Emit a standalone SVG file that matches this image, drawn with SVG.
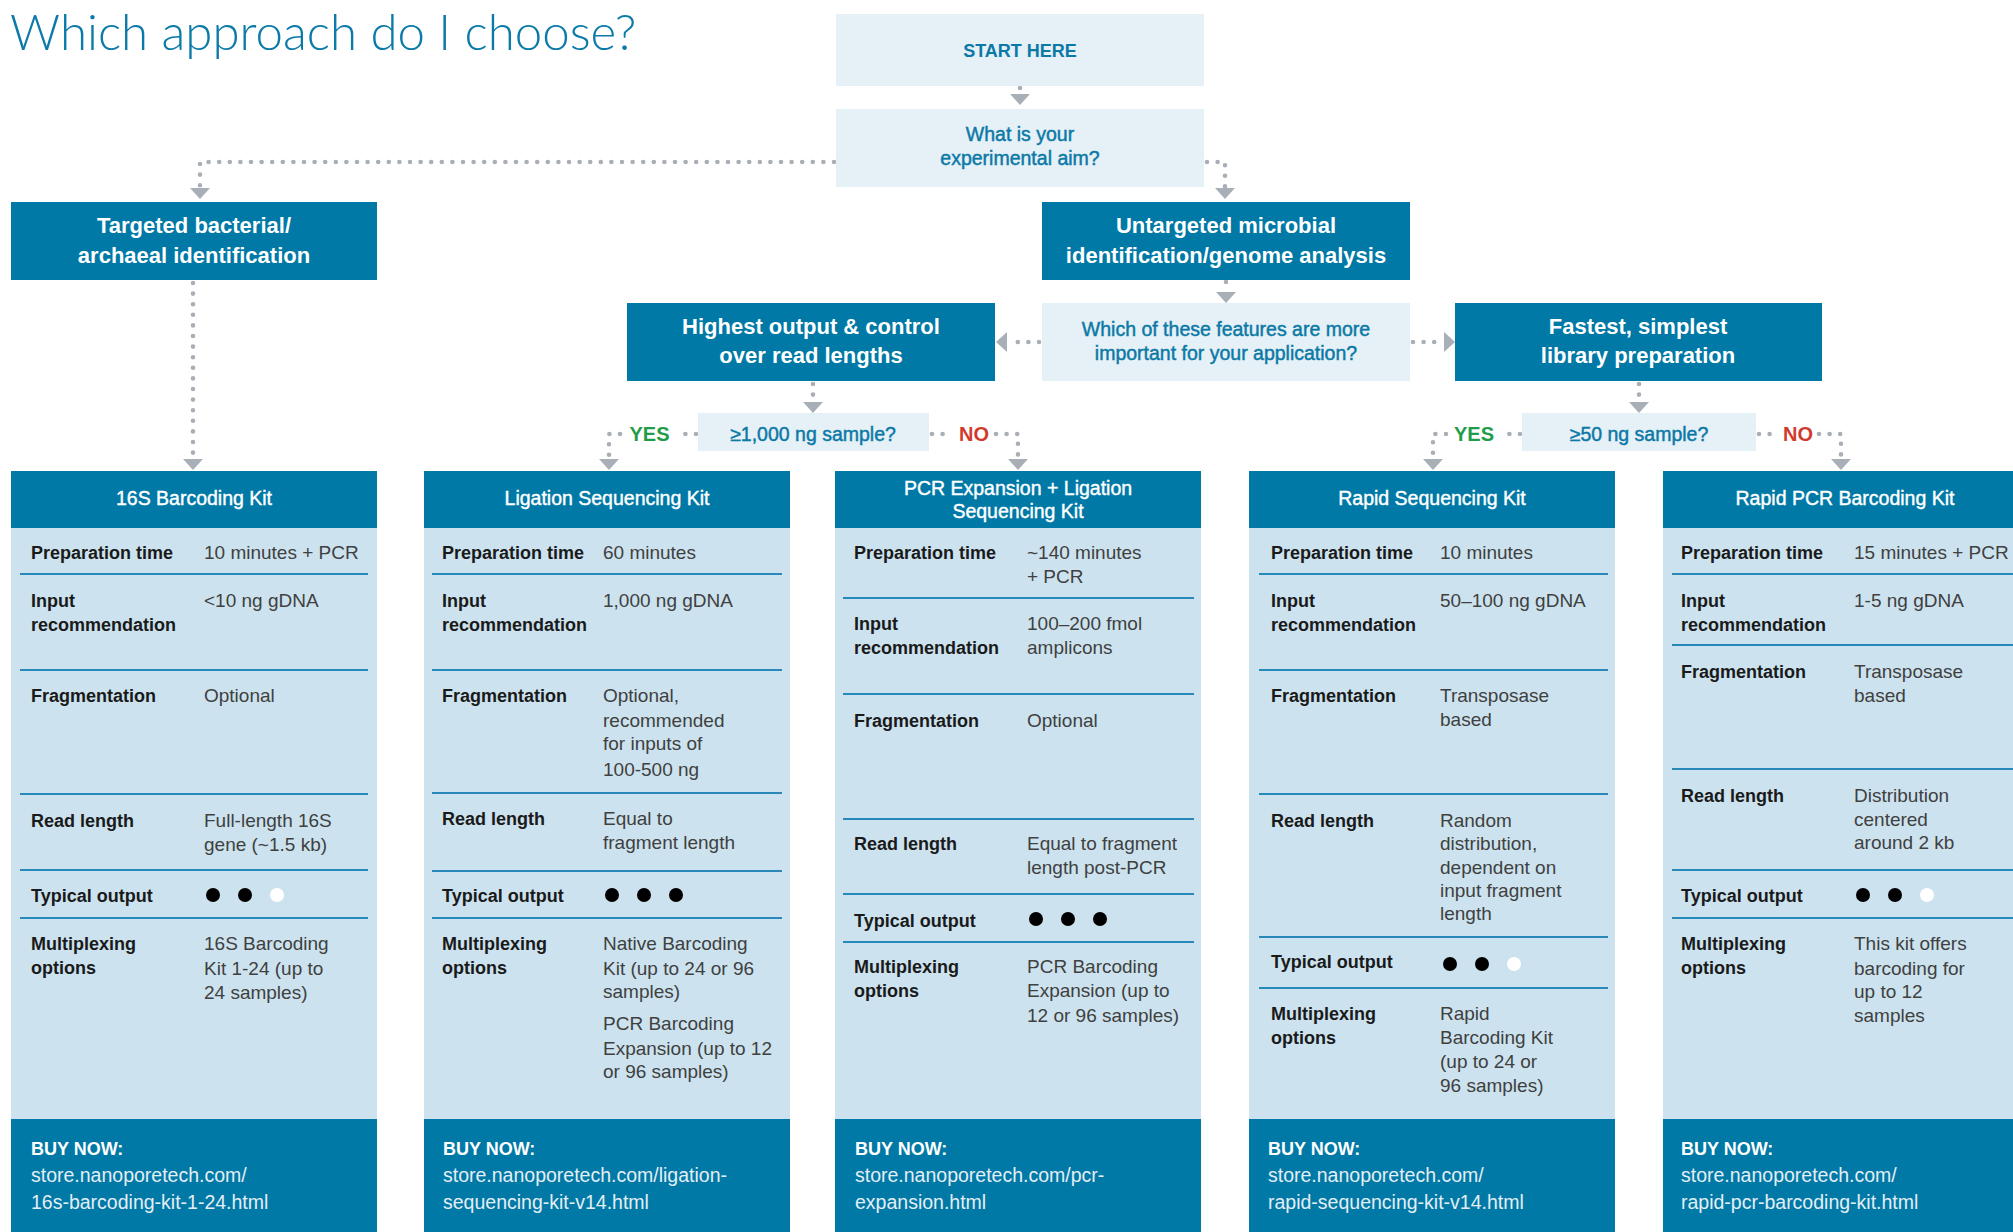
<svg xmlns="http://www.w3.org/2000/svg" xmlns:xlink="http://www.w3.org/1999/xlink" width="2013" height="1232" viewBox="0 0 2013 1232">
  <defs>
    <style>
      text { font-family: "Liberation Sans", Arial, sans-serif; }
      .title { font-family: Lato, "Liberation Sans", sans-serif; font-weight: 300; font-size: 49.2px; fill: #0b7aa8; }
      .qbox { fill: #e5f0f7; }
      .dark { fill: #0079a6; }
      .body { fill: #cce3ef; }
      .qt { font-size: 19.5px; fill: #0b79a6; stroke: #0b79a6; stroke-width: 0.45; text-anchor: middle; }
      .start { font-size: 18px; font-weight: bold; fill: #0b79a6; text-anchor: middle; }
      .big { font-size: 22px; font-weight: bold; fill: #ffffff; text-anchor: middle; }
      .kt { font-size: 19.5px; fill: #ffffff; stroke: #ffffff; stroke-width: 0.4; text-anchor: middle; }
      .lb { font-size: 18px; font-weight: bold; fill: #1a1a1a; }
      .vl { font-size: 19px; fill: #404040; }
      .rule { stroke: #2888b8; stroke-width: 2; }
      .buy { font-size: 18px; font-weight: bold; fill: #ffffff; }
      .url { font-size: 19.5px; fill: #e4eef5; }
      .on { fill: #000000; }
      .off { fill: #ffffff; }
      .dots { fill: none; stroke: #a9afb6; stroke-width: 4.6; stroke-linecap: round; stroke-dasharray: 0 10.6; }
      .ah { fill: #a9afb6; }
      .yes { font-size: 20px; font-weight: bold; fill: #1f9d48; text-anchor: middle; }
      .no { font-size: 20px; font-weight: bold; fill: #d23a2e; text-anchor: middle; }
    </style>
    <path id="ah-down" d="M-10,-11 L10,-11 L0,0 Z"/>
    <path id="ah-left" d="M11,-10 L11,10 L0,0 Z"/>
    <path id="ah-right" d="M-11,-10 L-11,10 L0,0 Z"/>
  </defs>

  <rect width="2013" height="1232" fill="#ffffff"/>

  <text class="title" x="10" y="50">Which approach do I choose?</text>

  <!-- connectors -->
  <g id="connectors">
    <path class="dots" d="M1020,88 V92"/>
    <use href="#ah-down" class="ah" x="1020" y="105"/>

    <path class="dots" d="M834,162 H200 V187"/>
    <use href="#ah-down" class="ah" x="200" y="199"/>

    <path class="dots" d="M1207,162 H1225 V187"/>
    <use href="#ah-down" class="ah" x="1225" y="199"/>

    <path class="dots" d="M193,283 V456"/>
    <use href="#ah-down" class="ah" x="193" y="470"/>

    <path class="dots" d="M1226,282 V290"/>
    <use href="#ah-down" class="ah" x="1226" y="303"/>

    <path class="dots" d="M1039,342 H1010"/>
    <use href="#ah-left" class="ah" x="996" y="342"/>

    <path class="dots" d="M1413,342 H1437"/>
    <use href="#ah-right" class="ah" x="1455" y="342"/>

    <path class="dots" d="M813,384 V400"/>
    <use href="#ah-down" class="ah" x="813" y="413"/>

    <path class="dots" d="M1639,384 V400"/>
    <use href="#ah-down" class="ah" x="1639" y="413"/>

    <!-- 1,000 ng decision -->
    <path class="dots" d="M696,434 H675"/>
    <path class="dots" d="M620,434 H609 V457"/>
    <use href="#ah-down" class="ah" x="609" y="470"/>
    <text class="yes" x="649.5" y="441">YES</text>
    <path class="dots" d="M932,434 H953"/>
    <path class="dots" d="M996,434 H1018 V457"/>
    <use href="#ah-down" class="ah" x="1018" y="470"/>
    <text class="no" x="974" y="441">NO</text>

    <!-- 50 ng decision -->
    <path class="dots" d="M1520,434 H1499"/>
    <path class="dots" d="M1446,434 H1433 V457"/>
    <use href="#ah-down" class="ah" x="1433" y="470"/>
    <text class="yes" x="1474" y="441">YES</text>
    <path class="dots" d="M1759,434 H1779"/>
    <path class="dots" d="M1819,434 H1841 V457"/>
    <use href="#ah-down" class="ah" x="1841" y="470"/>
    <text class="no" x="1798" y="441">NO</text>
  </g>

  <!-- decision nodes -->
  <g id="start">
    <rect class="qbox" x="836" y="14" width="368" height="72"/>
    <text class="start" x="1020" y="57">START HERE</text>
  </g>
  <g id="aim">
    <rect class="qbox" x="836" y="109" width="368" height="78"/>
    <text class="qt" x="1020" y="141">What is your<tspan x="1020" dy="23.5">experimental aim?</tspan></text>
  </g>
  <g id="targeted">
    <rect class="dark" x="11" y="202" width="366" height="78"/>
    <text class="big" x="194" y="233">Targeted bacterial/<tspan x="194" dy="30">archaeal identification</tspan></text>
  </g>
  <g id="untargeted">
    <rect class="dark" x="1042" y="202" width="368" height="78"/>
    <text class="big" x="1226" y="233">Untargeted microbial<tspan x="1226" dy="30">identification/genome analysis</tspan></text>
  </g>
  <g id="features">
    <rect class="qbox" x="1042" y="303" width="368" height="78"/>
    <text class="qt" x="1226" y="336">Which of these features are more<tspan x="1226" dy="23.5">important for your application?</tspan></text>
  </g>
  <g id="highest-output">
    <rect class="dark" x="627" y="303" width="368" height="78"/>
    <text class="big" x="811" y="334">Highest output &amp; control<tspan x="811" dy="29">over read lengths</tspan></text>
  </g>
  <g id="fastest">
    <rect class="dark" x="1455" y="303" width="367" height="78"/>
    <text class="big" x="1638" y="334">Fastest, simplest<tspan x="1638" dy="29">library preparation</tspan></text>
  </g>
  <g id="sample-1000">
    <rect class="qbox" x="698" y="413" width="231" height="38"/>
    <text class="qt" x="813" y="441">≥1,000 ng sample?</text>
  </g>
  <g id="sample-50">
    <rect class="qbox" x="1522" y="413" width="234" height="38"/>
    <text class="qt" x="1639" y="441">≥50 ng sample?</text>
  </g>

  <!-- kit cards -->
  <g id="kit-16s">
    <rect class="dark" x="11" y="471" width="366" height="57"/>
    <rect class="body" x="11" y="528" width="366" height="591"/>
    <rect class="dark" x="11" y="1119" width="366" height="113"/>
    <text class="kt" x="194" y="505">16S Barcoding Kit</text>
    <g class="rule">
      <line x1="20" y1="574" x2="368" y2="574"/>
      <line x1="20" y1="670" x2="368" y2="670"/>
      <line x1="20" y1="794" x2="368" y2="794"/>
      <line x1="20" y1="870" x2="368" y2="870"/>
      <line x1="20" y1="918" x2="368" y2="918"/>
    </g>
    <text class="lb" x="31" y="559">Preparation time</text>
    <text class="vl" x="204" y="559">10 minutes + PCR</text>
    <text class="lb" x="31" y="607">Input<tspan x="31" dy="23.5">recommendation</tspan></text>
    <text class="vl" x="204" y="607">&lt;10 ng gDNA</text>
    <text class="lb" x="31" y="702">Fragmentation</text>
    <text class="vl" x="204" y="702">Optional</text>
    <text class="lb" x="31" y="827">Read length</text>
    <text class="vl" x="204" y="827">Full-length 16S<tspan x="204" dy="23.5">gene (~1.5 kb)</tspan></text>
    <text class="lb" x="31" y="902">Typical output</text>
    <circle class="on" cx="213" cy="895" r="7"/>
    <circle class="on" cx="245" cy="895" r="7"/>
    <circle class="off" cx="277" cy="895" r="7"/>
    <text class="lb" x="31" y="950">Multiplexing<tspan x="31" dy="23.5">options</tspan></text>
    <text class="vl" x="204" y="950">16S Barcoding<tspan x="204" dy="24.5">Kit 1-24 (up to</tspan><tspan x="204" dy="24">24 samples)</tspan></text>
    <text class="buy" x="31" y="1155">BUY NOW:</text>
    <text class="url" x="31" y="1182">store.nanoporetech.com/<tspan x="31" dy="26.5">16s-barcoding-kit-1-24.html</tspan></text>
  </g>

  <g id="kit-ligation">
    <rect class="dark" x="424" y="471" width="366" height="57"/>
    <rect class="body" x="424" y="528" width="366" height="591"/>
    <rect class="dark" x="424" y="1119" width="366" height="113"/>
    <text class="kt" x="607" y="505">Ligation Sequencing Kit</text>
    <g class="rule">
      <line x1="432" y1="574" x2="782" y2="574"/>
      <line x1="432" y1="670" x2="782" y2="670"/>
      <line x1="432" y1="793" x2="782" y2="793"/>
      <line x1="432" y1="871" x2="782" y2="871"/>
      <line x1="432" y1="918" x2="782" y2="918"/>
    </g>
    <text class="lb" x="442" y="559">Preparation time</text>
    <text class="vl" x="603" y="559">60 minutes</text>
    <text class="lb" x="442" y="607">Input<tspan x="442" dy="23.5">recommendation</tspan></text>
    <text class="vl" x="603" y="607">1,000 ng gDNA</text>
    <text class="lb" x="442" y="702">Fragmentation</text>
    <text class="vl" x="603" y="702">Optional,<tspan x="603" dy="24.5">recommended</tspan><tspan x="603" dy="23.5">for inputs of</tspan><tspan x="603" dy="26">100-500 ng</tspan></text>
    <text class="lb" x="442" y="825">Read length</text>
    <text class="vl" x="603" y="825">Equal to<tspan x="603" dy="23.5">fragment length</tspan></text>
    <text class="lb" x="442" y="902">Typical output</text>
    <circle class="on" cx="612" cy="895" r="7"/>
    <circle class="on" cx="644" cy="895" r="7"/>
    <circle class="on" cx="676" cy="895" r="7"/>
    <text class="lb" x="442" y="950">Multiplexing<tspan x="442" dy="23.5">options</tspan></text>
    <text class="vl" x="603" y="950">Native Barcoding<tspan x="603" dy="24.5">Kit (up to 24 or 96</tspan><tspan x="603" dy="23.5">samples)</tspan><tspan x="603" dy="32">PCR Barcoding</tspan><tspan x="603" dy="24.5">Expansion (up to 12</tspan><tspan x="603" dy="23.5">or 96 samples)</tspan></text>
    <text class="buy" x="443" y="1155">BUY NOW:</text>
    <text class="url" x="443" y="1182">store.nanoporetech.com/ligation-<tspan x="443" dy="26.5">sequencing-kit-v14.html</tspan></text>
  </g>

  <g id="kit-pcr-expansion">
    <rect class="dark" x="835" y="471" width="366" height="57"/>
    <rect class="body" x="835" y="528" width="366" height="591"/>
    <rect class="dark" x="835" y="1119" width="366" height="113"/>
    <text class="kt" x="1018" y="495">PCR Expansion + Ligation<tspan x="1018" dy="22.5">Sequencing Kit</tspan></text>
    <g class="rule">
      <line x1="843" y1="598" x2="1194" y2="598"/>
      <line x1="843" y1="694" x2="1194" y2="694"/>
      <line x1="843" y1="819" x2="1194" y2="819"/>
      <line x1="843" y1="894" x2="1194" y2="894"/>
      <line x1="843" y1="942" x2="1194" y2="942"/>
    </g>
    <text class="lb" x="854" y="559">Preparation time</text>
    <text class="vl" x="1027" y="559">~140 minutes<tspan x="1027" dy="24">+ PCR</tspan></text>
    <text class="lb" x="854" y="630">Input<tspan x="854" dy="23.5">recommendation</tspan></text>
    <text class="vl" x="1027" y="630">100–200 fmol<tspan x="1027" dy="24">amplicons</tspan></text>
    <text class="lb" x="854" y="727">Fragmentation</text>
    <text class="vl" x="1027" y="727">Optional</text>
    <text class="lb" x="854" y="850">Read length</text>
    <text class="vl" x="1027" y="850">Equal to fragment<tspan x="1027" dy="23.5">length post-PCR</tspan></text>
    <text class="lb" x="854" y="927">Typical output</text>
    <circle class="on" cx="1036" cy="919" r="7"/>
    <circle class="on" cx="1068" cy="919" r="7"/>
    <circle class="on" cx="1100" cy="919" r="7"/>
    <text class="lb" x="854" y="973">Multiplexing<tspan x="854" dy="23.5">options</tspan></text>
    <text class="vl" x="1027" y="973">PCR Barcoding<tspan x="1027" dy="24">Expansion (up to</tspan><tspan x="1027" dy="24.5">12 or 96 samples)</tspan></text>
    <text class="buy" x="855" y="1155">BUY NOW:</text>
    <text class="url" x="855" y="1182">store.nanoporetech.com/pcr-<tspan x="855" dy="26.5">expansion.html</tspan></text>
  </g>

  <g id="kit-rapid-sequencing">
    <rect class="dark" x="1249" y="471" width="366" height="57"/>
    <rect class="body" x="1249" y="528" width="366" height="591"/>
    <rect class="dark" x="1249" y="1119" width="366" height="113"/>
    <text class="kt" x="1432" y="505">Rapid Sequencing Kit</text>
    <g class="rule">
      <line x1="1259" y1="574" x2="1608" y2="574"/>
      <line x1="1259" y1="670" x2="1608" y2="670"/>
      <line x1="1259" y1="794" x2="1608" y2="794"/>
      <line x1="1259" y1="937" x2="1608" y2="937"/>
      <line x1="1259" y1="988" x2="1608" y2="988"/>
    </g>
    <text class="lb" x="1271" y="559">Preparation time</text>
    <text class="vl" x="1440" y="559">10 minutes</text>
    <text class="lb" x="1271" y="607">Input<tspan x="1271" dy="23.5">recommendation</tspan></text>
    <text class="vl" x="1440" y="607">50–100 ng gDNA</text>
    <text class="lb" x="1271" y="702">Fragmentation</text>
    <text class="vl" x="1440" y="702">Transposase<tspan x="1440" dy="24">based</tspan></text>
    <text class="lb" x="1271" y="827">Read length</text>
    <text class="vl" x="1440" y="827">Random<tspan x="1440" dy="23.3">distribution,</tspan><tspan x="1440" dy="23.3">dependent on</tspan><tspan x="1440" dy="23.3">input fragment</tspan><tspan x="1440" dy="23.3">length</tspan></text>
    <text class="lb" x="1271" y="968">Typical output</text>
    <circle class="on" cx="1450" cy="964" r="7"/>
    <circle class="on" cx="1482" cy="964" r="7"/>
    <circle class="off" cx="1514" cy="964" r="7"/>
    <text class="lb" x="1271" y="1020">Multiplexing<tspan x="1271" dy="23.5">options</tspan></text>
    <text class="vl" x="1440" y="1020">Rapid<tspan x="1440" dy="23.5">Barcoding Kit</tspan><tspan x="1440" dy="24.5">(up to 24 or</tspan><tspan x="1440" dy="23.5">96 samples)</tspan></text>
    <text class="buy" x="1268" y="1155">BUY NOW:</text>
    <text class="url" x="1268" y="1182">store.nanoporetech.com/<tspan x="1268" dy="26.5">rapid-sequencing-kit-v14.html</tspan></text>
  </g>

  <g id="kit-rapid-pcr-barcoding">
    <rect class="dark" x="1663" y="471" width="366" height="57"/>
    <rect class="body" x="1663" y="528" width="366" height="591"/>
    <rect class="dark" x="1663" y="1119" width="366" height="113"/>
    <text class="kt" x="1845" y="505">Rapid PCR Barcoding Kit</text>
    <g class="rule">
      <line x1="1672" y1="574" x2="2013" y2="574"/>
      <line x1="1672" y1="645" x2="2013" y2="645"/>
      <line x1="1672" y1="769" x2="2013" y2="769"/>
      <line x1="1672" y1="870" x2="2013" y2="870"/>
      <line x1="1672" y1="918" x2="2013" y2="918"/>
    </g>
    <text class="lb" x="1681" y="559">Preparation time</text>
    <text class="vl" x="1854" y="559">15 minutes + PCR</text>
    <text class="lb" x="1681" y="607">Input<tspan x="1681" dy="23.5">recommendation</tspan></text>
    <text class="vl" x="1854" y="607">1-5 ng gDNA</text>
    <text class="lb" x="1681" y="678">Fragmentation</text>
    <text class="vl" x="1854" y="678">Transposase<tspan x="1854" dy="24">based</tspan></text>
    <text class="lb" x="1681" y="802">Read length</text>
    <text class="vl" x="1854" y="802">Distribution<tspan x="1854" dy="23.5">centered</tspan><tspan x="1854" dy="23.5">around 2 kb</tspan></text>
    <text class="lb" x="1681" y="902">Typical output</text>
    <circle class="on" cx="1863" cy="895" r="7"/>
    <circle class="on" cx="1895" cy="895" r="7"/>
    <circle class="off" cx="1927" cy="895" r="7"/>
    <text class="lb" x="1681" y="950">Multiplexing<tspan x="1681" dy="23.5">options</tspan></text>
    <text class="vl" x="1854" y="950">This kit offers<tspan x="1854" dy="24.5">barcoding for</tspan><tspan x="1854" dy="23.5">up to 12</tspan><tspan x="1854" dy="23.5">samples</tspan></text>
    <text class="buy" x="1681" y="1155">BUY NOW:</text>
    <text class="url" x="1681" y="1182">store.nanoporetech.com/<tspan x="1681" dy="26.5">rapid-pcr-barcoding-kit.html</tspan></text>
  </g>
</svg>
